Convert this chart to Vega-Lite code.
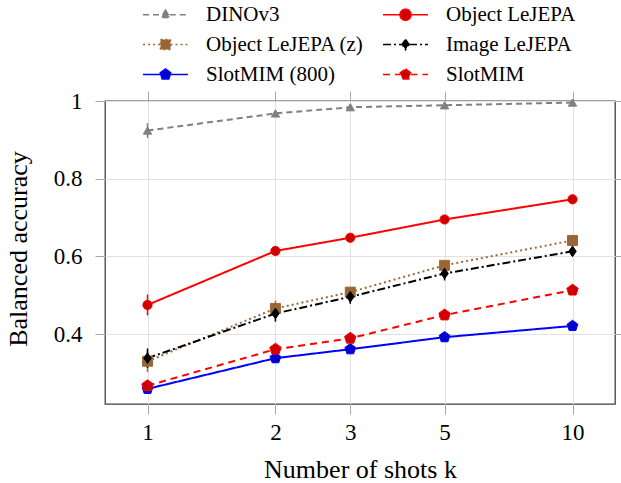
{
  "$schema": "https://vega.github.io/schema/vega-lite/v6.json",
  "width": 510,
  "height": 303,
  "autosize": {"type": "none"},
  "padding": {"left": 105, "top": 101, "right": 6, "bottom": 79},
  "config": {
    "font": "Liberation Serif",
    "view": {"stroke": "#404040", "strokeWidth": 1.3},
    "axis": {
      "labelFont": "Liberation Serif",
      "titleFont": "Liberation Serif",
      "labelColor": "#000000",
      "titleColor": "#000000",
      "titleFontWeight": "normal",
      "domain": false,
      "tickColor": "#a8a8a8",
      "gridColor": "#e2e2e2",
      "tickSize": 10,
      "labelFontSize": 23,
      "titleFontSize": 26
    },
    "legend": {
      "labelFont": "Liberation Serif",
      "labelFontSize": 21,
      "labelColor": "#000000",
      "symbolSize": 100,
      "symbolStrokeWidth": 1.6,
      "symbolOpacity": 1,
      "labelOffset": 30,
      "columnPadding": 15,
      "rowPadding": 8,
      "labelLimit": 400
    }
  },
  "data": {
    "values": [
      {"series": "DINOv3", "k": 1, "acc": 0.924, "lo": 0.905, "hi": 0.943},
      {"series": "DINOv3", "k": 2, "acc": 0.968, "lo": 0.963, "hi": 0.973},
      {"series": "DINOv3", "k": 3, "acc": 0.984, "lo": 0.98, "hi": 0.988},
      {"series": "DINOv3", "k": 5, "acc": 0.989, "lo": 0.985, "hi": 0.993},
      {"series": "DINOv3", "k": 10, "acc": 0.996, "lo": 0.993, "hi": 0.999},
      {"series": "Object LeJEPA", "k": 1, "acc": 0.475, "lo": 0.448, "hi": 0.502},
      {"series": "Object LeJEPA", "k": 2, "acc": 0.614, "lo": 0.606, "hi": 0.622},
      {"series": "Object LeJEPA", "k": 3, "acc": 0.648, "lo": 0.64, "hi": 0.656},
      {"series": "Object LeJEPA", "k": 5, "acc": 0.695, "lo": 0.687, "hi": 0.703},
      {"series": "Object LeJEPA", "k": 10, "acc": 0.747, "lo": 0.741, "hi": 0.753},
      {"series": "Object LeJEPA (z)", "k": 1, "acc": 0.33, "lo": 0.302, "hi": 0.358},
      {"series": "Object LeJEPA (z)", "k": 2, "acc": 0.466, "lo": 0.446, "hi": 0.486},
      {"series": "Object LeJEPA (z)", "k": 3, "acc": 0.508, "lo": 0.496, "hi": 0.52},
      {"series": "Object LeJEPA (z)", "k": 5, "acc": 0.577, "lo": 0.567, "hi": 0.587},
      {"series": "Object LeJEPA (z)", "k": 10, "acc": 0.641, "lo": 0.633, "hi": 0.649},
      {"series": "Image LeJEPA", "k": 1, "acc": 0.338, "lo": 0.313, "hi": 0.363},
      {"series": "Image LeJEPA", "k": 2, "acc": 0.453, "lo": 0.432, "hi": 0.474},
      {"series": "Image LeJEPA", "k": 3, "acc": 0.496, "lo": 0.478, "hi": 0.514},
      {"series": "Image LeJEPA", "k": 5, "acc": 0.556, "lo": 0.538, "hi": 0.574},
      {"series": "Image LeJEPA", "k": 10, "acc": 0.613, "lo": 0.601, "hi": 0.625},
      {"series": "SlotMIM (800)", "k": 1, "acc": 0.259, "lo": 0.247, "hi": 0.271},
      {"series": "SlotMIM (800)", "k": 2, "acc": 0.338, "lo": 0.326, "hi": 0.35},
      {"series": "SlotMIM (800)", "k": 3, "acc": 0.361, "lo": 0.349, "hi": 0.373},
      {"series": "SlotMIM (800)", "k": 5, "acc": 0.392, "lo": 0.382, "hi": 0.402},
      {"series": "SlotMIM (800)", "k": 10, "acc": 0.421, "lo": 0.413, "hi": 0.429},
      {"series": "SlotMIM", "k": 1, "acc": 0.267, "lo": 0.257, "hi": 0.277},
      {"series": "SlotMIM", "k": 2, "acc": 0.361, "lo": 0.351, "hi": 0.371},
      {"series": "SlotMIM", "k": 3, "acc": 0.389, "lo": 0.379, "hi": 0.399},
      {"series": "SlotMIM", "k": 5, "acc": 0.449, "lo": 0.437, "hi": 0.461},
      {"series": "SlotMIM", "k": 10, "acc": 0.513, "lo": 0.503, "hi": 0.523}
    ]
  },
  "layer": [
    {
      "mark": {"type": "rule", "strokeWidth": 1.5},
      "encoding": {
        "x": {"field": "k", "type": "quantitative", "scale": {"type": "log", "domain": [0.7943, 12.589], "nice": false},
              "axis": {"orient": "top", "values": [1, 2, 3, 5, 10], "labels": false, "grid": false, "title": null}},
        "y": {"field": "lo", "type": "quantitative", "scale": {"domain": [0.22, 1], "nice": false, "zero": false},
              "axis": {"orient": "right", "values": [0.4, 0.6, 0.8, 1], "labels": false, "grid": false, "title": null}},
        "y2": {"field": "hi"},
        "color": {"field": "series", "type": "nominal", "legend": null,
                  "scale": {"domain": ["DINOv3", "Object LeJEPA", "Object LeJEPA (z)", "Image LeJEPA", "SlotMIM (800)", "SlotMIM"],
                            "range": ["#808080", "#ff0000", "#9c6a3a", "#000000", "#0000ff", "#ff0000"]}}
      }
    },
    {
      "mark": {"type": "line", "strokeWidth": 2},
      "encoding": {
        "x": {"field": "k", "type": "quantitative", "scale": {"type": "log", "domain": [0.7943, 12.589], "nice": false},
              "axis": {"orient": "bottom", "values": [1, 2, 3, 5, 10], "grid": true, "labelPadding": 7, "title": "Number of shots k", "titleY": 73, "titleBaseline": "alphabetic"}},
        "y": {"field": "acc", "type": "quantitative", "scale": {"domain": [0.22, 1], "nice": false, "zero": false},
              "axis": {"orient": "left", "values": [0.4, 0.6, 0.8, 1], "format": "~g", "grid": true, "labelPadding": 13, "title": "Balanced accuracy", "titleX": -78.5, "titleY": 147.5, "titleBaseline": "alphabetic"}},
        "color": {"field": "series", "type": "nominal", "legend": null,
                  "scale": {"domain": ["DINOv3", "Object LeJEPA", "Object LeJEPA (z)", "Image LeJEPA", "SlotMIM (800)", "SlotMIM"],
                            "range": ["#808080", "#ff0000", "#9c6a3a", "#000000", "#0000ff", "#ff0000"]}},
        "strokeDash": {"field": "series", "type": "nominal", "legend": null,
                       "scale": {"domain": ["DINOv3", "Object LeJEPA", "Object LeJEPA (z)", "Image LeJEPA", "SlotMIM (800)", "SlotMIM"],
                                 "range": [[6, 4], [1, 0], [2, 3], [8, 3, 2, 3], [1, 0], [7, 5]]}}
      }
    },
    {
      "mark": {"type": "point", "filled": true, "opacity": 1, "strokeWidth": 1},
      "encoding": {
        "x": {"field": "k", "type": "quantitative", "scale": {"type": "log", "domain": [0.7943, 12.589], "nice": false}, "axis": null},
        "y": {"field": "acc", "type": "quantitative", "scale": {"domain": [0.22, 1], "nice": false, "zero": false}, "axis": null},
        "fill": {"field": "series", "type": "nominal", "legend": null,
                 "scale": {"domain": ["DINOv3", "Object LeJEPA", "Object LeJEPA (z)", "Image LeJEPA", "SlotMIM (800)", "SlotMIM"],
                           "range": ["#808080", "#cc0000", "#996633", "#000000", "#0000cc", "#cc0000"]}},
        "stroke": {"field": "series", "type": "nominal", "legend": null,
                   "scale": {"domain": ["DINOv3", "Object LeJEPA", "Object LeJEPA (z)", "Image LeJEPA", "SlotMIM (800)", "SlotMIM"],
                             "range": ["#808080", "#ff0000", "#9c6a3a", "#000000", "#0000ff", "#ff0000"]}},
        "shape": {"field": "series", "type": "nominal", "legend": null,
                  "scale": {"domain": ["DINOv3", "Object LeJEPA", "Object LeJEPA (z)", "Image LeJEPA", "SlotMIM (800)", "SlotMIM"],
                            "range": ["triangle-up", "circle", "square", "M0,-1L0.7,0L0,1L-0.7,0Z", "M0,-1L0.951,-0.309L0.588,0.809L-0.588,0.809L-0.951,-0.309Z", "M0,-1L0.951,-0.309L0.588,0.809L-0.588,0.809L-0.951,-0.309Z"]}},
        "size": {"field": "series", "type": "nominal", "legend": null,
                 "scale": {"domain": ["DINOv3", "Object LeJEPA", "Object LeJEPA (z)", "Image LeJEPA", "SlotMIM (800)", "SlotMIM"],
                           "range": [70, 144, 121, 110, 121, 121]}}
      }
    },
    {
      "mark": {"type": "point", "filled": true, "opacity": 0},
      "encoding": {
        "x": {"field": "k", "type": "quantitative", "scale": {"type": "log", "domain": [0.7943, 12.589], "nice": false}, "axis": null},
        "y": {"field": "acc", "type": "quantitative", "scale": {"domain": [0.22, 1], "nice": false, "zero": false}, "axis": null},
        "fill": {"field": "series", "type": "nominal",
                 "legend": {"title": null, "orient": "none", "legendX": 50, "legendY": -97, "columns": 2, "direction": "horizontal"},
                 "scale": {"domain": ["DINOv3", "Object LeJEPA", "Object LeJEPA (z)", "Image LeJEPA", "SlotMIM (800)", "SlotMIM"],
                           "range": ["#808080", "#cc0000", "#996633", "#000000", "#0000cc", "#cc0000"]}},
        "stroke": {"field": "series", "type": "nominal",
                   "legend": {"title": null, "orient": "none", "legendX": 50, "legendY": -97, "columns": 2, "direction": "horizontal"},
                   "scale": {"domain": ["DINOv3", "Object LeJEPA", "Object LeJEPA (z)", "Image LeJEPA", "SlotMIM (800)", "SlotMIM"],
                             "range": ["#808080", "#ff0000", "#9c6a3a", "#000000", "#0000ff", "#ff0000"]}},
        "strokeDash": {"field": "series", "type": "nominal",
                       "legend": {"title": null, "orient": "none", "legendX": 50, "legendY": -97, "columns": 2, "direction": "horizontal"},
                       "scale": {"domain": ["DINOv3", "Object LeJEPA", "Object LeJEPA (z)", "Image LeJEPA", "SlotMIM (800)", "SlotMIM"],
                                 "range": [[6, 4], [1, 0], [2, 3], [8, 3, 2, 3], [1, 0], [7, 5]]}},
        "shape": {"field": "series", "type": "nominal",
                  "legend": {"title": null, "orient": "none", "legendX": 50, "legendY": -97, "columns": 2, "direction": "horizontal"},
                  "scale": {"domain": ["DINOv3", "Object LeJEPA", "Object LeJEPA (z)", "Image LeJEPA", "SlotMIM (800)", "SlotMIM"],
                            "range": [
                              "M-4.5,0H-0.85M0.85,0H4.5M0,-0.95L0.85,0.55L-0.85,0.55Z",
                              "M-4.5,0H-1.1M1.1,0H4.5M1.1,0A1.1,1.1,0,1,1,-1.1,0A1.1,1.1,0,1,1,1.1,0Z",
                              "M-4.5,0H-1M1,0H4.5M-1,-1H1V1H-1Z",
                              "M-4.5,0H-0.7M0.7,0H4.5M0,-1L0.7,0L0,1L-0.7,0Z",
                              "M-4.5,0H-1M1,0H4.5M0,-1.1L1.046,-0.34L0.647,0.89L-0.647,0.89L-1.046,-0.34Z",
                              "M-4.5,0H-1M1,0H4.5M0,-1.1L1.046,-0.34L0.647,0.89L-0.647,0.89L-1.046,-0.34Z"
                            ]}}
      }
    }
  ],
  "resolve": {
    "scale": {"color": "independent", "fill": "independent", "stroke": "independent", "strokeDash": "independent", "shape": "independent", "size": "independent"},
    "axis": {"x": "independent", "y": "independent"}
  }
}
